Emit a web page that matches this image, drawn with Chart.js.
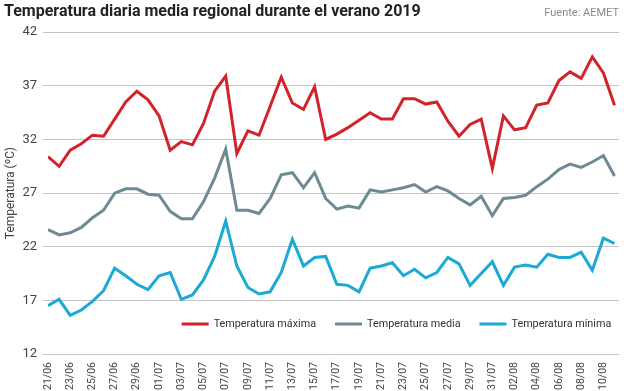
<!DOCTYPE html>
<html>
<head>
<meta charset="utf-8">
<script src="https://cdn.jsdelivr.net/npm/chart.js@4"></script>
<style>
html,body{margin:0;padding:0;background:#fff;}
#wrap{width:624px;height:391px;position:relative;}
</style>
</head>
<body>
<div id="wrap"><canvas id="c" width="624" height="391"></canvas></div>
<script>
const titleText = 'Temperatura diaria media regional durante el verano 2019';
const sourceText = 'Fuente: AEMET';
const yAxisTitle = 'Temperatura (ºC)';
const seriesNames = ['Temperatura máxima', 'Temperatura media', 'Temperatura mínima'];
const dates = ['21/06','22/06','23/06','24/06','25/06','26/06','27/06','28/06','29/06','30/06',
  '01/07','02/07','03/07','04/07','05/07','06/07','07/07','08/07','09/07','10/07','11/07','12/07',
  '13/07','14/07','15/07','16/07','17/07','18/07','19/07','20/07','21/07','22/07','23/07','24/07',
  '25/07','26/07','27/07','28/07','29/07','30/07','31/07','01/08','02/08','03/08','04/08','05/08',
  '06/08','07/08','08/08','09/08','10/08','11/08'];
const tMax = [30.4,29.5,31.0,31.6,32.4,32.3,33.9,35.5,36.5,35.7,34.2,31.0,31.8,31.5,33.5,36.5,37.9,
  30.7,32.8,32.4,35.1,37.8,35.4,34.8,36.9,32.0,32.5,33.1,33.8,34.5,33.9,33.9,35.8,35.8,35.3,35.5,
  33.7,32.3,33.4,33.9,29.3,34.2,32.9,33.1,35.2,35.4,37.5,38.3,37.7,39.7,38.2,35.2];
const tMed = [23.6,23.1,23.3,23.8,24.7,25.4,27.0,27.4,27.4,26.9,26.8,25.3,24.6,24.6,26.2,28.4,31.1,
  25.4,25.4,25.1,26.5,28.7,28.9,27.5,28.9,26.5,25.5,25.8,25.6,27.3,27.1,27.3,27.5,27.8,27.1,27.6,
  27.2,26.5,25.9,26.7,24.9,26.5,26.6,26.8,27.6,28.3,29.2,29.7,29.4,29.9,30.5,28.6];
const tMin = [16.5,17.1,15.6,16.1,16.9,17.9,20.0,19.3,18.5,18.0,19.3,19.6,17.1,17.5,18.9,21.1,24.4,
  20.2,18.2,17.6,17.8,19.6,22.7,20.2,21.0,21.1,18.5,18.4,17.8,20.0,20.2,20.5,19.3,19.9,19.1,19.6,
  21.0,20.4,18.4,19.5,20.6,18.4,20.1,20.3,20.1,21.3,21.0,21.0,21.5,19.8,22.8,22.3];
const yTicks = [12,17,22,27,32,37,42];

const colors = ['#d2232a', '#6e8b94', '#1ba9d6'];
const FONT = 'Roboto, "Open Sans", sans-serif';

const toXY = arr => arr.map((v, i) => ({x: i, y: v}));

const sourcePlugin = {
  id: 'source',
  afterDraw(chart) {
    const ctx = chart.ctx;
    ctx.save();
    ctx.font = '11px ' + FONT;
    ctx.fillStyle = '#8a8a8a';
    ctx.textAlign = 'right';
    ctx.textBaseline = 'alphabetic';
    ctx.fillText(sourceText, 619, 16);
    ctx.restore();
  }
};

const legendPlugin = {
  id: 'inlegend',
  afterDatasetsDraw(chart) {
    const ctx = chart.ctx;
    const area = chart.chartArea;
    ctx.save();
    ctx.font = '10.8px ' + FONT;
    const lineW = 27, gap = 5, sep = 19;
    const items = chart.data.datasets.map(d => ({label: d.label, color: d.borderColor, w: ctx.measureText(d.label).width}));
    let total = 0;
    items.forEach((it, k) => { total += lineW + gap + it.w + (k < items.length - 1 ? sep : 0); });
    let x = area.right - 8 - total;
    const y = area.bottom - 30;
    items.forEach(it => {
      ctx.strokeStyle = it.color;
      ctx.lineWidth = 3;
      ctx.beginPath();
      ctx.moveTo(x, y);
      ctx.lineTo(x + lineW, y);
      ctx.stroke();
      x += lineW + gap;
      ctx.fillStyle = '#333';
      ctx.textAlign = 'left';
      ctx.textBaseline = 'middle';
      ctx.fillText(it.label, x, y);
      x += it.w + sep;
    });
    ctx.restore();
  }
};

new Chart(document.getElementById('c'), {
  type: 'line',
  data: {
    datasets: [
      {label: seriesNames[0], data: toXY(tMax), borderColor: colors[0], backgroundColor: colors[0]},
      {label: seriesNames[1], data: toXY(tMed), borderColor: colors[1], backgroundColor: colors[1]},
      {label: seriesNames[2], data: toXY(tMin), borderColor: colors[2], backgroundColor: colors[2]}
    ].map(d => Object.assign(d, {borderWidth: 3, pointRadius: 0, tension: 0, fill: false}))
  },
  options: {
    responsive: false,
    animation: false,
    devicePixelRatio: 1,
    layout: {padding: {left: 4, right: 0, top: 0, bottom: 0}},
    plugins: {
      legend: {display: false},
      tooltip: {enabled: false},
      title: {
        display: true,
        text: titleText,
        align: 'start',
        color: '#222',
        font: {family: FONT, size: 16, weight: 'bold'},
        padding: {top: 2, bottom: 11}
      }
    },
    scales: {
      x: {
        type: 'linear',
        min: 0,
        max: 51.43,
        grid: {display: false, drawTicks: false},
        border: {display: false},
        afterBuildTicks: s => { s.ticks = dates.map((d, i) => ({value: i})).filter(t => t.value % 2 === 0); },
        afterFit: s => { s.height = 37; },
        ticks: {
          autoSkip: false,
          minRotation: 90,
          maxRotation: 90,
          padding: 8,
          color: '#444',
          font: {family: FONT, size: 10.5},
          callback: v => dates[v]
        }
      },
      y: {
        min: 12,
        max: 42,
        afterBuildTicks: s => { s.ticks = yTicks.map(v => ({value: v})); },
        afterFit: s => { s.width = 44; },
        grid: {color: '#c4c4c4', lineWidth: 1, drawTicks: true, tickLength: 5},
        border: {display: false},
        ticks: {padding: 6, color: '#444', font: {family: FONT, size: 13}},
        title: {display: true, text: yAxisTitle, color: '#444', padding: 0, font: {family: FONT, size: 12}}
      }
    }
  },
  plugins: [sourcePlugin, legendPlugin]
});
</script>
</body>
</html>
